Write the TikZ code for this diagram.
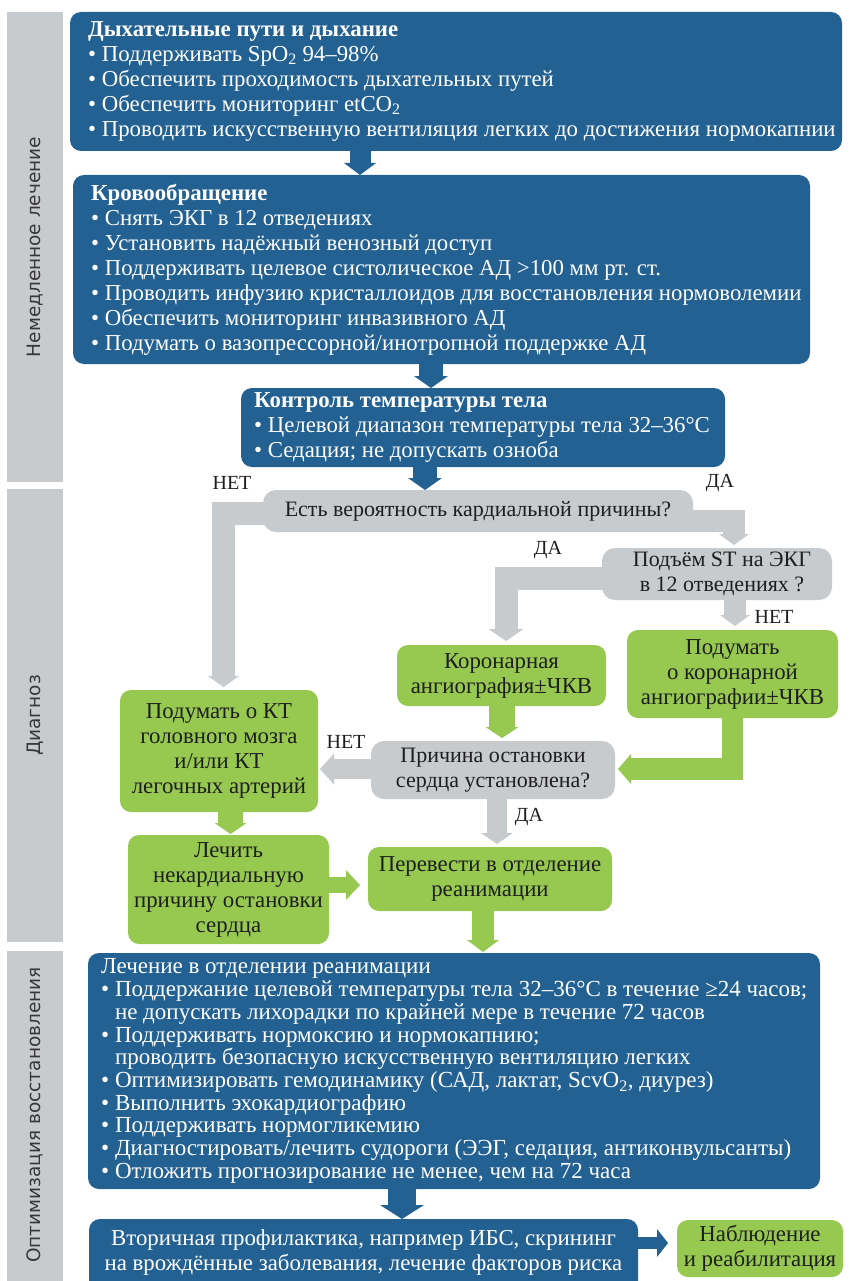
\documentclass[tikz,border=0pt]{standalone}
\usepackage{fontspec}
\setmainfont{Liberation Serif}
\newfontfamily\bandfont{DejaVu Sans}
\usetikzlibrary{calc}
\definecolor{cblue}{RGB}{35,97,146}
\definecolor{cgreen}{RGB}{151,201,80}
\definecolor{cgray}{RGB}{200,203,205}
\definecolor{ctext}{RGB}{30,30,30}
\definecolor{cbandtext}{RGB}{55,55,55}
\pgfdeclarelayer{bg}
\pgfsetlayers{bg,main}
\newcommand\fs{\fontsize{22.8}{25}\selectfont}
\newcommand\fsG{\fontsize{22}{25}\selectfont}
\newcommand\fsL{\fontsize{23}{22.7}\selectfont}
\newcommand\fsY{\fontsize{20}{24}\selectfont}
% heads
\newcommand\headD[4]{\fill[#1] (#2) -- ++(-#3/2,-#4) -- ++(#3,0) -- cycle;}
\newcommand\headL[4]{\fill[#1] (#2) -- ++(#4,-#3/2) -- ++(0,#3) -- cycle;}
\newcommand\headR[4]{\fill[#1] (#2) -- ++(-#4,-#3/2) -- ++(0,#3) -- cycle;}
% straight block arrows: color, start, tip, shaft, head width, head length
\newcommand\arrowD[6]{\draw[draw=#1, line width=#4pt] (#2) -- ($(#3)+(0,-#6+0.5)$);\headD{#1}{#3}{#5}{#6}}
\newcommand\arrowL[6]{\draw[draw=#1, line width=#4pt] (#2) -- ($(#3)+(#6-0.5,0)$);\headL{#1}{#3}{#5}{#6}}
\newcommand\arrowR[6]{\draw[draw=#1, line width=#4pt] (#2) -- ($(#3)+(-#6+0.5,0)$);\headR{#1}{#3}{#5}{#6}}
\begin{document}
\begin{tikzpicture}[x=1pt,y=-1pt,
  box/.style={anchor=north west, inner sep=0pt, outer sep=0pt},
  bluebox/.style={box, fill=cblue, rounded corners=11pt},
  greenbox/.style={box, fill=cgreen, rounded corners=11pt, text=ctext, align=center, font=\fs},
  graybox/.style={box, fill=cgray, rounded corners=13pt, text=ctext, align=center, font=\fsG},
  btext/.style={anchor=west, inner sep=0pt, text=white, align=left, font=\fs},
  band/.style={box, fill=cgray, minimum width=56pt},
  bandlab/.style={rotate=90, inner sep=0pt, font=\bandfont\fontsize{18.5}{20}\selectfont, text=cbandtext},
  yn/.style={inner sep=0pt, font=\fsY, text=ctext},
  ljoin/.style={line join=miter, line cap=butt}
]
\useasboundingbox (0,0) rectangle (848,1281);
\begin{pgfonlayer}{bg}
\fill[white] (0,0) rectangle (848,1281);
\end{pgfonlayer}

% side bands
\node[band, minimum height=470pt] (band1) at (7,12) {};
\node[band, minimum height=453pt] (band2) at (7,489) {};
\node[band, minimum height=345pt] (band3) at (7,951) {};
\node[bandlab] (band1L) at (band1.center) {Немедленное лечение};
\node[bandlab] (band2L) at (band2.center) {Диагноз};
\node[bandlab] (band3L) at (band3.center |- 0,1115) {Оптимизация восстановления};

% blue boxes
\node[bluebox, minimum width=772pt, minimum height=139pt] (airway) at (70,12) {};
\node[btext] (airwayT) at ([xshift=18pt]airway.west) {\textbf{Дыхательные пути и дыхание}\\
• Поддерживать SpO\textsubscript{2} 94–98\%\\
• Обеспечить проходимость дыхательных путей\\
• Обеспечить мониторинг etCO\textsubscript{2}\\
• Проводить искусственную вентиляция легких до достижения нормокапнии};

\node[bluebox, minimum width=737pt, minimum height=189pt] (circ) at (73,175) {};
\node[btext] (circT) at ([xshift=18pt]circ.west) {\textbf{Кровообращение}\\
• Снять ЭКГ в 12 отведениях\\
• Установить надёжный венозный доступ\\
• Поддерживать целевое систолическое АД >100 мм рт. ст.\\
• Проводить инфузию кристаллоидов для восстановления нормоволемии\\
• Обеспечить мониторинг инвазивного АД\\
• Подумать о вазопрессорной/инотропной поддержке АД};

\node[bluebox, minimum width=484pt, minimum height=79pt] (temp) at (241,388) {};
\node[btext] (tempT) at ([xshift=13pt]temp.west) {\textbf{Контроль температуры тела}\\
• Целевой диапазон температуры тела 32–36°C\\
• Седация; не допускать озноба};

% diagnosis
\node[graybox, minimum width=430pt, minimum height=42pt] (cardiac) at (263,490) {Есть вероятность кардиальной причины?};
\node[graybox, minimum width=230pt, minimum height=52pt] (stelev) at (602,548) {\hspace*{10pt}Подъём ST на ЭКГ\\\hspace*{10pt}в 12 отведениях ?};
\node[greenbox, minimum width=209pt, minimum height=61pt] (cag) at (397,645) {Коронарная\\ангиография±ЧКВ};
\node[greenbox, minimum width=211pt, minimum height=88pt] (ccag) at (627,630) {Подумать\\о коронарной\\ангиографии±ЧКВ};
\node[greenbox, minimum width=198pt, minimum height=122pt] (ct) at (120,690) {Подумать о КТ\\головного мозга\\и/или КТ\\легочных артерий};
\node[graybox, minimum width=244pt, minimum height=58pt] (cause) at (371,741) {Причина остановки\\сердца установлена?};
\node[greenbox, minimum width=201pt, minimum height=109pt] (noncard) at (128,835) {Лечить\\некардиальную\\причину остановки\\сердца};
\node[greenbox, minimum width=244pt, minimum height=64pt] (icu) at (368,847) {Перевести в отделение\\реанимации};

% post-resuscitation
\node[bluebox, minimum width=732pt, minimum height=236pt] (care) at (88,953) {};
\node[btext, font=\fsL] (careT) at ([xshift=13pt]care.west) {Лечение в отделении реанимации\\
• Поддержание целевой температуры тела 32–36°C в течение ≥24 часов;\\
\phantom{• }не допускать лихорадки по крайней мере в течение 72 часов\\
• Поддерживать нормоксию и нормокапнию;\\
\phantom{• }проводить безопасную искусственную вентиляцию легких\\
• Оптимизировать гемодинамику (САД, лактат, ScvO\textsubscript{2}, диурез)\\
• Выполнить эхокардиографию\\
• Поддерживать нормогликемию\\
• Диагностировать/лечить судороги (ЭЭГ, седация, антиконвульсанты)\\
• Отложить прогнозирование не менее, чем на 72 часа};

\node[bluebox, minimum width=549pt, minimum height=75pt] (prev) at (89,1219) {};
\node[btext, anchor=center, align=center] (prevT) at (prev.north |- 0,1253) {Вторичная профилактика, например ИБС, скрининг\\на врождённые заболевания, лечение факторов риска};
\node[greenbox, minimum width=166pt, minimum height=57pt] (follow) at (677,1220) {Наблюдение\\и реабилитация};

% yes/no labels
\node[yn] (l1) at (232,483) {НЕТ};
\node[yn] (l2) at (720,483) {ДА};
\node[yn] (l3) at (548,550) {ДА};
\node[yn] (l4) at (774,617) {НЕТ};
\node[yn] (l5) at (346,742) {НЕТ};
\node[yn] (l6) at (529,817) {ДА};

% connectors
\begin{pgfonlayer}{bg}
\arrowD{cblue}{airway.south -| 360,0}{circ.north -| 360,0}{21}{32}{12}
\arrowD{cblue}{circ.south -| 431,0}{temp.north -| 431,0}{24}{34}{12}
\arrowD{cblue}{temp.south -| 425,0}{cardiac.north -| 425,0}{24}{34}{12}
% D -> H
\coordinate (t4) at ($(ct.north -| 223.5,0)+(0,-3)$);
\draw[draw=cgray, line width=23pt, ljoin] ($(cardiac.west)+(15,2.5)$) -| ($(t4)+(0,-10.5)$);
\headD{cgray}{t4}{31}{11}
% D -> E
\coordinate (t5) at ($(stelev.north -| 734,0)+(0,-3)$);
\draw[draw=cgray, line width=22pt, ljoin] ($(cardiac.east)+(-15,10)$) -| ($(t5)+(0,-10.5)$);
\headD{cgray}{t5}{30}{11}
% E -> F
\coordinate (t6) at ($(cag.north -| 506,0)+(0,-4)$);
\draw[draw=cgray, line width=23pt, ljoin] ($(stelev.west)+(15,4.5)$) -| ($(t6)+(0,-11.5)$);
\headD{cgray}{t6}{35}{12}
% E -> G
\coordinate (t7) at ($(ccag.north -| 735,0)+(0,-4)$);
\arrowD{cgray}{stelev.south -| 735,0}{t7}{22}{30}{11}
% F -> I
\coordinate (t8) at ($(cause.north -| 502,0)+(0,-3)$);
\arrowD{cgreen}{cag.south -| 502,0}{t8}{26}{33}{11}
% G -> I
\coordinate (t9) at ($(cause.east |- 0,769)+(3,0)$);
\draw[draw=cgreen, line width=21.5pt, ljoin] ($(ccag.south -| 732.5,0)+(0,-5)$) |- ($(t9)+(12.5,0)$);
\headL{cgreen}{t9}{30}{13}
% I -> H
\coordinate (t10) at ($(ct.east |- 0,769)+(2,0)$);
\arrowL{cgray}{cause.west |- 0,769}{t10}{20}{31}{14}
% I -> J
\coordinate (t11) at ($(icu.north -| 497,0)+(0,-3)$);
\arrowD{cgray}{cause.south -| 497,0}{t11}{20}{32}{11}
% H -> K
\coordinate (t12) at ($(noncard.north -| 230.5,0)+(0,-1)$);
\arrowD{cgreen}{ct.south -| 230.5,0}{t12}{25}{32}{11}
% K -> J
\coordinate (t13) at ($(icu.west |- 0,885)+(-8,0)$);
\arrowR{cgreen}{noncard.east |- 0,885}{t13}{16}{30}{14}
% J -> L
\coordinate (t14) at ($(care.north -| 483,0)+(0,-1)$);
\arrowD{cgreen}{icu.south -| 483,0}{t14}{22}{32}{12}
% L -> M
\coordinate (t15) at (prev.north -| 402,0);
\arrowD{cblue}{care.south -| 402,0}{t15}{28}{44}{14}
% M -> N
\coordinate (t16) at ($(follow.west |- 0,1243)+(-9,0)$);
\arrowR{cblue}{prev.east |- 0,1243}{t16}{12}{28}{11}
\end{pgfonlayer}
\end{tikzpicture}
\end{document}
